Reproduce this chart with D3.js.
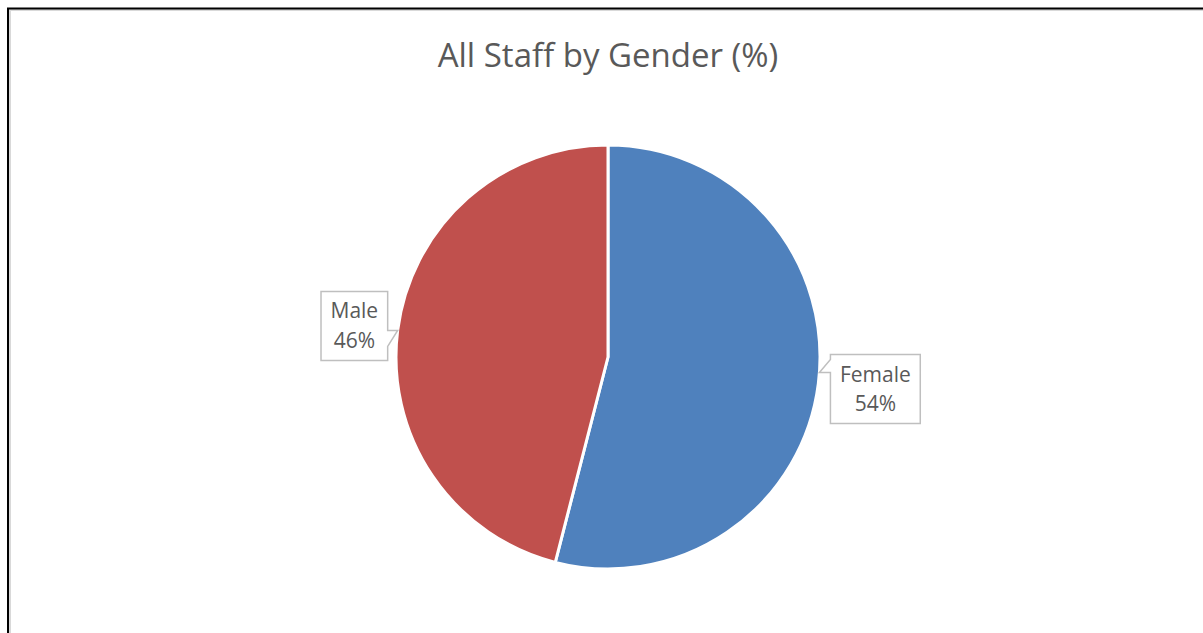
<!DOCTYPE html>
<html>
<head>
<meta charset="utf-8">
<script src="https://cdn.jsdelivr.net/npm/d3@7/dist/d3.min.js"></script>
<style>
html,body{margin:0;padding:0;background:#fff;}
svg{display:block;}
</style>
</head>
<body>
<svg id="chart" width="1203" height="633"></svg>
<script>
const title = "All Staff by Gender (%)";
const categories = ["Female", "Male"];
const values = [54, 46];
const colors = ["#4F81BD", "#C0504D"];

const W = 1203, H = 633;
const svg = d3.select("#chart");
const font = "'Open Sans', 'Noto Sans', sans-serif";

// frame
svg.append("path").attr("d", `M10,${H} L10,10 L${W},10`).attr("fill","none").attr("stroke","#d9d9d9").attr("stroke-width",2);
svg.append("path").attr("d", `M8,${H} L8,8.5 L${W},8.5`).attr("fill","none").attr("stroke","#000").attr("stroke-width",2);

// title
svg.append("text").attr("x", 608).attr("y", 67).attr("text-anchor","middle")
  .attr("font-family", font).attr("font-size", 33).attr("fill", "#595959").text(title);

const cx = 608, cy = 357, R = 212;
const g = svg.append("g").attr("transform", `translate(${cx},${cy})`);
const data = categories.map((c,i)=>({cat:c, value:values[i], color:colors[i]}));
const pie = d3.pie().sort(null).value(d=>d.value);
const arcs = pie(data);
const arc = d3.arc().innerRadius(0).outerRadius(R);
g.selectAll("path.slice").data(arcs).enter().append("path")
  .attr("class","slice").attr("d", arc).attr("fill", d=>d.data.color)
  .attr("stroke","#fff").attr("stroke-width",3).attr("stroke-linejoin","round");

const total = d3.sum(values);
const fmt = v => Math.round(v/total*100) + "%";

arcs.forEach(a => {
  const mid = (a.startAngle + a.endAngle)/2;
  const left = Math.sin(mid) < 0;
  let ty = cy - Math.cos(mid)*R;
  if (!left) ty -= 11;
  const tx = cx + (left ? -1 : 1) * Math.sqrt(R*R - (ty-cy)*(ty-cy));
  const lg = svg.append("g");
  const t1 = lg.append("text").attr("font-family", font).attr("font-size", 21).attr("fill","#595959")
    .attr("text-anchor","middle").text(a.data.cat);
  const t2 = lg.append("text").attr("font-family", font).attr("font-size", 21).attr("fill","#595959")
    .attr("text-anchor","middle").text(fmt(a.data.value));
  const tw = Math.max(t1.node().getComputedTextLength(), t2.node().getComputedTextLength());
  const bw = tw + 19, bh = 69;
  let x0, y0, path;
  if (left) {
    const x1 = tx - 10; x0 = x1 - bw; y0 = ty - 39;
    path = `M${x0},${y0} L${x1},${y0} L${x1},${ty} L${tx},${ty} L${x1},${ty+16} L${x1},${y0+bh} L${x0},${y0+bh} Z`;
  } else {
    x0 = tx + 11; y0 = ty - 18; const x1 = x0 + bw;
    path = `M${x0},${y0} L${x1},${y0} L${x1},${y0+bh} L${x0},${y0+bh} L${x0},${ty} L${tx},${ty} L${x0},${ty-13} Z`;
  }
  lg.insert("path","text").attr("d", path).attr("fill","#fff").attr("stroke","#BFBFBF").attr("stroke-width",1.5);
  const mx = x0 + bw/2;
  t1.attr("x", mx).attr("y", y0 + 27);
  t2.attr("x", mx).attr("y", y0 + 56.5);
});
</script>
</body>
</html>
